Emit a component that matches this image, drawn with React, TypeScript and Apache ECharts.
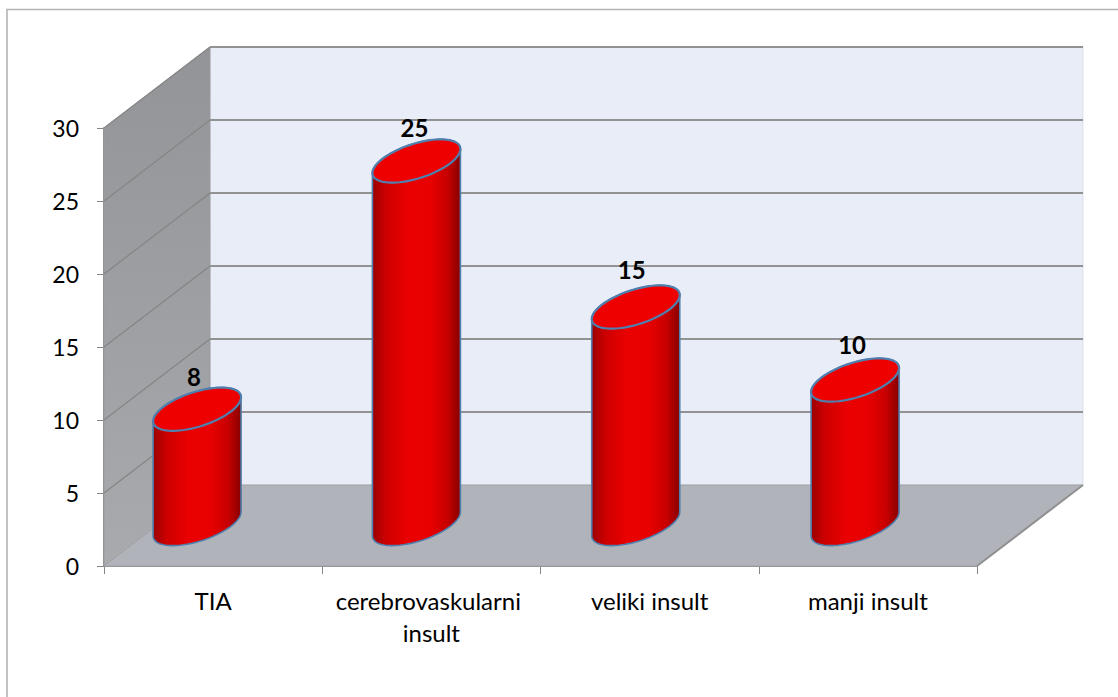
import React, { useEffect, useRef } from "react";
import * as echarts from "echarts";

const categories = ["TIA", "cerebrovaskularni insult", "veliki insult", "manji insult"];
const values = [8, 25, 15, 10];
const gridValues = [0, 5, 10, 15, 20, 25, 30];
const labelShiftX = [-3, -2, -4, -3];
const labelShiftY = [1, 0, -4, -2];

const FONT = "Lato";
const DEPTH_X = 106;
const DEPTH_Y = 81;
const RX = 44;
const SHEAR = 12;
const RY = 18;
const LIFT = 40;
const BASE_LIFT = 42;
const LINE = "#909090";

const ellipsePts = (cx: number, cy: number, from: number, to: number, n = 40) => {
  const pts: number[][] = [];
  for (let i = 0; i <= n; i++) {
    const t = from + ((to - from) * i) / n;
    pts.push([cx + RX * Math.cos(t), cy - SHEAR * Math.cos(t) - RY * Math.sin(t)]);
  }
  return pts;
};

const renderWalls = (params: any, api: any) => {
  const cs = params.coordSys;
  const l = cs.x, r = cs.x + cs.width, t = cs.y, b = cs.y + cs.height;
  const children: any[] = [
    { type: "polygon", shape: { points: [[l + DEPTH_X, t - DEPTH_Y], [r + DEPTH_X, t - DEPTH_Y], [r + DEPTH_X, b - DEPTH_Y], [l + DEPTH_X, b - DEPTH_Y]] },
      style: { fill: "#e9edf8", stroke: "#dde1ec", lineWidth: 1 } },
    { type: "polygon", shape: { points: [[l, t], [l + DEPTH_X, t - DEPTH_Y], [l + DEPTH_X, b - DEPTH_Y], [l, b]] },
      style: { fill: new echarts.graphic.LinearGradient(0, 0, 0, 1, [{ offset: 0, color: "#929497" }, { offset: 1, color: "#a8aaae" }]), stroke: "#999b9e", lineWidth: 1 } },
    { type: "polygon", shape: { points: [[l, b], [l + DEPTH_X, b - DEPTH_Y], [r + DEPTH_X, b - DEPTH_Y], [r, b]] },
      style: { fill: "#b0b3ba", stroke: "#a0a2a6", lineWidth: 1 } },
    { type: "line", shape: { x1: r, y1: b, x2: r + DEPTH_X, y2: b - DEPTH_Y }, style: { stroke: LINE, lineWidth: 2 } },
  ];
  gridValues.forEach((v) => {
    const y = api.coord([0, v])[1];
    if (v > 0) {
      children.push({ type: "line", shape: { x1: l, y1: y, x2: l + DEPTH_X, y2: y - DEPTH_Y }, style: { stroke: "#858585", lineWidth: 1.2 } });
      children.push({ type: "line", shape: { x1: l + DEPTH_X, y1: y - DEPTH_Y, x2: r + DEPTH_X, y2: y - DEPTH_Y }, style: { stroke: "#929292", lineWidth: 2 } });
    }
  });
  return { type: "group", children };
};

const renderCylinder = (params: any, api: any) => {
  const cs = params.coordSys;
  const v = api.value(1);
  const [bx, topY] = api.coord([api.value(0), v]);
  const baseY = api.coord([api.value(0), 0])[1];
  const cx = cs.x + (bx - cs.x) * 1.005 - 16.6;
  const top = topY - LIFT;
  const bot = baseY - BASE_LIFT;
  const body = [
    ...ellipsePts(cx, top, 0, Math.PI),
    ...ellipsePts(cx, bot, Math.PI, 2 * Math.PI),
  ];
  const edge = "#4f7fae";
  const i = params.dataIndex;
  return {
    type: "group",
    children: [
      { type: "polygon", shape: { points: body },
        style: { stroke: edge, lineWidth: 1.6, fill: new echarts.graphic.LinearGradient(0, 0, 1, 0, [
          { offset: 0, color: "#9a0000" }, { offset: 0.15, color: "#cc0000" }, { offset: 0.4, color: "#ea0000" },
          { offset: 0.65, color: "#e80000" }, { offset: 0.85, color: "#c80000" }, { offset: 1, color: "#880000" } ]) } },
      { type: "polygon", shape: { points: ellipsePts(cx, top, 0, 2 * Math.PI, 80) },
        style: { fill: "#ee0000", stroke: edge, lineWidth: 2.2 } },
      { type: "text", x: cx + labelShiftX[i], y: top - 34 + labelShiftY[i],
        style: { text: String(v), fill: "#000", font: `bold 24px ${FONT}`, textAlign: "center", textVerticalAlign: "middle" } },
    ],
  };
};

export default function App() {
  const ref = useRef<HTMLDivElement>(null);
  useEffect(() => {
    const chart = echarts.init(ref.current!, undefined, { renderer: "svg" });
    chart.setOption({
      animation: false,
      backgroundColor: "#fff",
      graphic: [{ type: "rect", shape: { x: 7, y: 9.5, width: 1200, height: 800 }, style: { fill: "none", stroke: "#b4b4b4", lineWidth: 1.6 }, silent: true, z: -1 }],
      grid: { left: 104, top: 128, width: 873, height: 438 },
      xAxis: {
        type: "category", data: categories,
        axisLine: { lineStyle: { color: LINE, width: 2 } },
        axisTick: { show: true, length: 8, lineStyle: { color: "#868686", width: 1 } },
        axisLabel: { color: "#000", fontFamily: FONT, fontSize: 24, margin: 18, lineHeight: 32, width: 210, overflow: "break", interval: 0 },
      },
      yAxis: {
        type: "value", min: 0, max: 30, interval: 5,
        splitLine: { show: false },
        axisLine: { show: true, lineStyle: { color: LINE, width: 2 } },
        axisTick: { show: true, length: 7, lineStyle: { color: "#868686", width: 1 } },
        axisLabel: { color: "#000", fontFamily: FONT, fontSize: 23, margin: 25 },
      },
      series: [
        { type: "custom", renderItem: renderWalls, data: [[0, 0]], z: 1, silent: true, clip: false },
        { type: "custom", renderItem: renderCylinder, data: values.map((v, i) => [i, v]), encode: { x: 0, y: 1 }, z: 3, silent: true, clip: false },
      ],
    });
    return () => chart.dispose();
  }, []);
  return <div ref={ref} style={{ position: "absolute", left: 0, top: 0, width: 1118, height: 697 }} />;
}
